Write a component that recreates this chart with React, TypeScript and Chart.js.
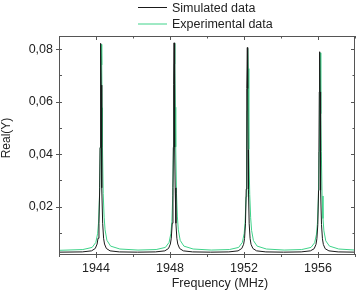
import React, { useEffect, useRef } from 'react';
import { Chart, registerables } from 'chart.js';

Chart.register(...registerables);

const seriesNames = ['Simulated data', 'Experimental data'];
const seriesColors = ['#1a1a1a', '#3fd38a'];

const simFreq = [
  1942.0, 1943.26, 1943.76, 1943.96, 1944.06, 1944.11, 1944.16, 1944.2, 1944.22, 1944.24, 1944.26, 1944.28, 1944.3, 1944.32, 1944.36, 1944.41, 1944.46, 1944.56, 1944.76, 1945.26, 1946.24,
  1947.22, 1947.72, 1947.92, 1948.02, 1948.07, 1948.12, 1948.16, 1948.18, 1948.2, 1948.22, 1948.24, 1948.26, 1948.28, 1948.32, 1948.37, 1948.42, 1948.52, 1948.72, 1949.22, 1950.2,
  1951.18, 1951.68, 1951.88, 1951.98, 1952.03, 1952.08, 1952.12, 1952.14, 1952.16, 1952.18, 1952.2, 1952.22, 1952.24, 1952.28, 1952.33, 1952.38, 1952.48, 1952.68, 1953.18, 1954.14,
  1955.09, 1955.59, 1955.79, 1955.89, 1955.94, 1955.99, 1956.03, 1956.05, 1956.07, 1956.09, 1956.11, 1956.13, 1956.15, 1956.19, 1956.24, 1956.29, 1956.39, 1956.59, 1957.09, 1958.0,
];
const simReal = [
  0.0027, 0.0028, 0.0032, 0.0041, 0.0058, 0.008, 0.0137, 0.0272, 0.0425, 0.0663, 0.0822, 0.0663, 0.0425, 0.0272, 0.0137, 0.008, 0.0058, 0.0041, 0.0032, 0.0028, 0.0027,
  0.0028, 0.0032, 0.0041, 0.0058, 0.008, 0.0137, 0.0272, 0.0426, 0.0665, 0.0824, 0.0665, 0.0426, 0.0272, 0.0137, 0.008, 0.0058, 0.0041, 0.0032, 0.0028, 0.0027,
  0.0028, 0.0032, 0.0041, 0.0057, 0.0079, 0.0135, 0.0267, 0.0417, 0.065, 0.0806, 0.065, 0.0417, 0.0267, 0.0135, 0.0079, 0.0057, 0.0041, 0.0032, 0.0028, 0.0027,
  0.0028, 0.0032, 0.004, 0.0056, 0.0078, 0.0132, 0.0262, 0.0409, 0.0637, 0.079, 0.0637, 0.0409, 0.0262, 0.0132, 0.0078, 0.0056, 0.004, 0.0032, 0.0028, 0.0027,
];

const expFreq = [
  1942.0, 1943.29, 1943.79, 1943.99, 1944.09, 1944.14, 1944.19, 1944.23, 1944.25, 1944.27, 1944.29, 1944.31, 1944.33, 1944.35, 1944.39, 1944.44, 1944.49, 1944.59, 1944.79, 1945.29, 1946.27,
  1947.25, 1947.75, 1947.95, 1948.05, 1948.1, 1948.15, 1948.19, 1948.21, 1948.23, 1948.25, 1948.27, 1948.29, 1948.31, 1948.35, 1948.4, 1948.45, 1948.55, 1948.75, 1949.25, 1950.23,
  1951.21, 1951.71, 1951.91, 1952.01, 1952.06, 1952.11, 1952.15, 1952.17, 1952.19, 1952.21, 1952.23, 1952.25, 1952.27, 1952.31, 1952.36, 1952.41, 1952.51, 1952.71, 1953.21, 1954.17,
  1955.12, 1955.62, 1955.82, 1955.92, 1955.97, 1956.02, 1956.06, 1956.08, 1956.1, 1956.12, 1956.14, 1956.16, 1956.18, 1956.22, 1956.27, 1956.32, 1956.42, 1956.62, 1957.12, 1958.0,
];
const expReal = [
  0.0034, 0.0037, 0.0045, 0.0064, 0.0099, 0.0142, 0.0242, 0.0426, 0.0577, 0.074, 0.0818, 0.074, 0.0577, 0.0426, 0.025, 0.016, 0.0112, 0.0072, 0.005, 0.0039, 0.0035,
  0.0037, 0.0045, 0.0064, 0.0099, 0.0143, 0.0243, 0.0428, 0.0579, 0.0743, 0.0822, 0.0743, 0.0579, 0.0428, 0.0251, 0.0161, 0.0112, 0.0072, 0.005, 0.0039, 0.0035,
  0.0037, 0.0045, 0.0064, 0.0098, 0.014, 0.0238, 0.0419, 0.0566, 0.0726, 0.0803, 0.0726, 0.0566, 0.0419, 0.0246, 0.0158, 0.011, 0.0071, 0.005, 0.0039, 0.0035,
  0.0037, 0.0045, 0.0063, 0.0096, 0.0138, 0.0233, 0.041, 0.0554, 0.0711, 0.0786, 0.0711, 0.0554, 0.041, 0.0241, 0.0155, 0.0108, 0.007, 0.005, 0.0039, 0.0035,
];

const xMin = 1942;
const xMax = 1958;
const yMin = 0.002;
const yMax = 0.085;
const xTicks = [1944, 1948, 1952, 1956];
const xTickLabels = ['1944', '1948', '1952', '1956'];
const xMinorTicks = [1942, 1946, 1950, 1954, 1958];
const yTicks = [0.02, 0.04, 0.06, 0.08];
const yTickLabels = ['0,02', '0,04', '0,06', '0,08'];
const yMinorTicks = [0.01, 0.03, 0.05, 0.07];
const xTitle = 'Frequency (MHz)';
const yTitle = 'Real(Y)';

const FONT = '"Liberation Sans", Arial, Helvetica, sans-serif';

const decorPlugin = {
  id: 'decor',
  afterDraw(chart: any) {
    const { ctx, chartArea, scales } = chart;
    const { left, right, top, bottom } = chartArea;
    const xs = scales.x;
    const ys = scales.y;
    ctx.save();
    ctx.strokeStyle = '#555';
    ctx.lineWidth = 1;
    ctx.strokeRect(left + 0.5, top + 0.5, right - left - 1, bottom - top);
    ctx.beginPath();
    xTicks.forEach((v) => {
      const px = Math.round(xs.getPixelForValue(v)) + 0.5;
      ctx.moveTo(px, bottom - 2);
      ctx.lineTo(px, bottom + 4);
      ctx.moveTo(px, top);
      ctx.lineTo(px, top + 4);
    });
    xMinorTicks.forEach((v) => {
      const px = Math.round(xs.getPixelForValue(v)) + 0.5;
      ctx.moveTo(px, bottom);
      ctx.lineTo(px, bottom + 3);
      ctx.moveTo(px, top);
      ctx.lineTo(px, top + 2.5);
    });
    yTicks.forEach((v) => {
      const py = Math.round(ys.getPixelForValue(v)) + 0.5;
      ctx.moveTo(left - 3, py);
      ctx.lineTo(left + 3, py);
      ctx.moveTo(right, py);
      ctx.lineTo(right - 4, py);
    });
    yMinorTicks.forEach((v) => {
      const py = Math.round(ys.getPixelForValue(v)) + 0.5;
      ctx.moveTo(left, py);
      ctx.lineTo(left + 3, py);
      ctx.moveTo(right, py);
      ctx.lineTo(right - 2.5, py);
    });
    ctx.stroke();

    const legendYs = [7.5, 24];
    chart.data.datasets.forEach((ds: any, i: number) => {
      ctx.strokeStyle = ds.borderColor;
      ctx.lineWidth = 1;
      ctx.beginPath();
      ctx.moveTo(138, legendYs[i]);
      ctx.lineTo(167, legendYs[i]);
      ctx.stroke();
      ctx.fillStyle = '#222';
      ctx.font = `12.5px ${FONT}`;
      ctx.textAlign = 'left';
      ctx.textBaseline = 'middle';
      ctx.fillText(ds.label, 172, legendYs[i] + 1);
    });

    ctx.fillStyle = '#222';
    ctx.font = `12.5px ${FONT}`;
    ctx.textAlign = 'center';
    ctx.textBaseline = 'alphabetic';
    ctx.fillText(xTitle, 220, 287);
    ctx.save();
    ctx.translate(10, 138);
    ctx.rotate(-Math.PI / 2);
    ctx.textBaseline = 'alphabetic';
    ctx.font = `12px ${FONT}`;
    ctx.fillText(yTitle, 0, 0);
    ctx.restore();
    ctx.restore();
  },
};

export default function App() {
  const canvasRef = useRef<HTMLCanvasElement | null>(null);

  useEffect(() => {
    document.body.style.margin = '0';
    const canvas = canvasRef.current;
    if (!canvas) return;
    const chart = new Chart(canvas, {
      type: 'line',
      data: {
        datasets: [
          {
            label: seriesNames[0],
            data: simFreq.map((f, i) => ({ x: f, y: simReal[i] })),
            borderColor: seriesColors[0],
            borderWidth: 1,
            pointRadius: 0,
            tension: 0,
            fill: false,
          },
          {
            label: seriesNames[1],
            data: expFreq.map((f, i) => ({ x: f, y: expReal[i] })),
            borderColor: seriesColors[1],
            borderWidth: 1,
            pointRadius: 0,
            tension: 0,
            fill: false,
          },
        ],
      },
      options: {
        animation: false,
        responsive: false,
        devicePixelRatio: 1,
        layout: { padding: { left: 0, right: 3, top: 36, bottom: 0 } },
        plugins: {
          legend: { display: false },
          tooltip: { enabled: false },
        },
        scales: {
          x: {
            type: 'linear',
            min: xMin,
            max: xMax,
            grid: { display: false, drawTicks: false },
            border: { display: false },
            afterBuildTicks: (scale: any) => {
              scale.ticks = xTicks.map((v) => ({ value: v }));
            },
            afterFit: (scale: any) => {
              scale.height = 36;
            },
            ticks: {
              autoSkip: false,
              maxRotation: 0,
              padding: 7,
              color: '#222',
              font: { family: FONT, size: 12.5 },
              callback: (v: any) => {
                const idx = xTicks.indexOf(Number(v));
                return idx >= 0 ? xTickLabels[idx] : '';
              },
            },
          },
          y: {
            type: 'linear',
            min: yMin,
            max: yMax,
            grid: { display: false, drawTicks: false },
            border: { display: false },
            afterBuildTicks: (scale: any) => {
              scale.ticks = yTicks.map((v) => ({ value: v }));
            },
            afterFit: (scale: any) => {
              scale.width = 59;
            },
            ticks: {
              autoSkip: false,
              padding: 6,
              color: '#222',
              font: { family: FONT, size: 12.5 },
              callback: (v: any) => {
                const idx = yTicks.findIndex((t) => Math.abs(t - Number(v)) < 1e-9);
                return idx >= 0 ? yTickLabels[idx] : '';
              },
            },
          },
        },
      },
      plugins: [decorPlugin],
    } as any);
    return () => chart.destroy();
  }, []);

  return (
    <div style={{ width: 358, height: 290, background: '#fff' }}>
      <canvas ref={canvasRef} width={358} height={290} style={{ display: 'block', width: 358, height: 290 }} />
    </div>
  );
}
